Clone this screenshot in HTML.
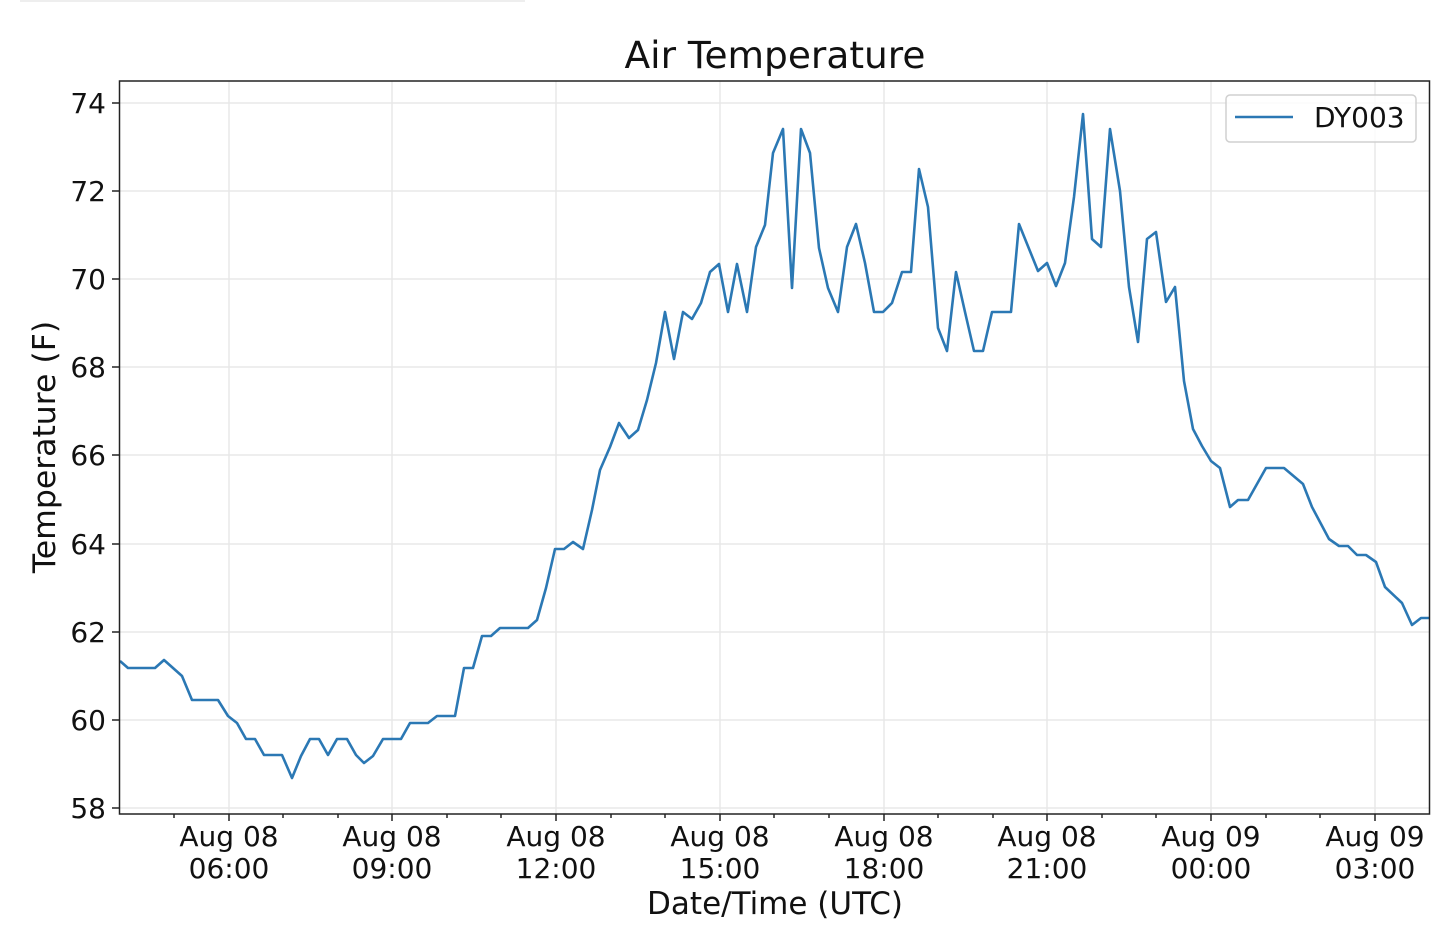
<!DOCTYPE html>
<html><head><meta charset="utf-8"><style>html,body{margin:0;padding:0;background:#fff}svg{display:block}text{font-family:"DejaVu Sans","Liberation Sans",sans-serif;fill:#111}</style></head>
<body>
<svg width="1440" height="934" viewBox="0 0 1440 934" xmlns="http://www.w3.org/2000/svg">
<rect x="20" y="0" width="505" height="2" fill="#eee"/>
<g stroke="#e8e8e8" stroke-width="1.5">
<line x1="229" y1="81" x2="229" y2="814"/><line x1="392" y1="81" x2="392" y2="814"/><line x1="556" y1="81" x2="556" y2="814"/><line x1="720" y1="81" x2="720" y2="814"/><line x1="884" y1="81" x2="884" y2="814"/><line x1="1047" y1="81" x2="1047" y2="814"/><line x1="1211" y1="81" x2="1211" y2="814"/><line x1="1375" y1="81" x2="1375" y2="814"/>
<line x1="119" y1="103" x2="1429" y2="103"/><line x1="119" y1="191" x2="1429" y2="191"/><line x1="119" y1="279" x2="1429" y2="279"/><line x1="119" y1="367" x2="1429" y2="367"/><line x1="119" y1="455" x2="1429" y2="455"/><line x1="119" y1="544" x2="1429" y2="544"/><line x1="119" y1="632" x2="1429" y2="632"/><line x1="119" y1="720" x2="1429" y2="720"/><line x1="119" y1="808" x2="1429" y2="808"/>
</g>
<polyline fill="none" stroke="#2b78b4" stroke-width="2.6" stroke-linejoin="round" points="120,661 128,668 155,668 164,660 173,668 182,676 192,700 218,700 228,716 237,723 246,739 255,739 264,755 282,755 292,778 301,756 310,739 319,739 328,755 337,739 347,739 356,755 364,763 373,756 383,739 401,739 410,723 428,723 437,716 455,716 464,668 473,668 482,636 491,636 500,628 528,628 537,620 546,588 555,549 564,549 573,542 583,549 592,510 600,470 610,447 619,423 629,438 638,430 647,400 656,363 665,312 674,359 683,312 692,319 701,303 710,272 719,264 728,312 737,264 747,312 756,247 765,225 773,153 783,129 792,288 801,129 810,153 819,248 828,288 838,312 847,247 856,224 865,263 874,312 883,312 892,303 902,272 911,272 919,169 928,207 938,328 947,351 956,272 965,312 974,351 983,351 992,312 1011,312 1019,224 1038,271 1047,263 1056,286 1065,263 1074,197 1083,114 1092,239 1101,247 1110,129 1120,191 1129,287 1138,342 1147,239 1156,232 1166,302 1175,287 1184,381 1193,429 1202,446 1211,461 1220,468 1230,507 1238,500 1248,500 1257,484 1266,468 1284,468 1303,484 1312,507 1329,539 1339,546 1348,546 1357,555 1366,555 1376,562 1385,587 1402,603 1412,625 1421,618 1430,618"/>
<rect x="119.5" y="81" width="1310" height="733" fill="none" stroke="#222" stroke-width="1.5"/>
<g stroke="#222" stroke-width="1.5">
<line x1="112" y1="103" x2="119" y2="103"/><line x1="112" y1="191" x2="119" y2="191"/><line x1="112" y1="279" x2="119" y2="279"/><line x1="112" y1="367" x2="119" y2="367"/><line x1="112" y1="455" x2="119" y2="455"/><line x1="112" y1="544" x2="119" y2="544"/><line x1="112" y1="632" x2="119" y2="632"/><line x1="112" y1="720" x2="119" y2="720"/><line x1="112" y1="808" x2="119" y2="808"/>
<line x1="229" y1="814" x2="229" y2="821"/><line x1="392" y1="814" x2="392" y2="821"/><line x1="556" y1="814" x2="556" y2="821"/><line x1="720" y1="814" x2="720" y2="821"/><line x1="884" y1="814" x2="884" y2="821"/><line x1="1047" y1="814" x2="1047" y2="821"/><line x1="1211" y1="814" x2="1211" y2="821"/><line x1="1375" y1="814" x2="1375" y2="821"/>
<line x1="174" y1="814" x2="174" y2="818"/><line x1="283" y1="814" x2="283" y2="818"/><line x1="338" y1="814" x2="338" y2="818"/><line x1="447" y1="814" x2="447" y2="818"/><line x1="501" y1="814" x2="501" y2="818"/><line x1="611" y1="814" x2="611" y2="818"/><line x1="665" y1="814" x2="665" y2="818"/><line x1="774" y1="814" x2="774" y2="818"/><line x1="829" y1="814" x2="829" y2="818"/><line x1="938" y1="814" x2="938" y2="818"/><line x1="993" y1="814" x2="993" y2="818"/><line x1="1102" y1="814" x2="1102" y2="818"/><line x1="1156" y1="814" x2="1156" y2="818"/><line x1="1266" y1="814" x2="1266" y2="818"/><line x1="1320" y1="814" x2="1320" y2="818"/>
</g>
<g font-size="28" text-anchor="end">
<text x="106" y="113">74</text><text x="106" y="201">72</text><text x="106" y="289">70</text><text x="106" y="377">68</text><text x="106" y="465">66</text><text x="106" y="554">64</text><text x="106" y="642">62</text><text x="106" y="730">60</text><text x="106" y="818">58</text>
</g>
<g font-size="28" text-anchor="middle">
<text x="229" y="846">Aug 08</text><text x="229" y="878">06:00</text>
<text x="392" y="846">Aug 08</text><text x="392" y="878">09:00</text>
<text x="556" y="846">Aug 08</text><text x="556" y="878">12:00</text>
<text x="720" y="846">Aug 08</text><text x="720" y="878">15:00</text>
<text x="884" y="846">Aug 08</text><text x="884" y="878">18:00</text>
<text x="1047" y="846">Aug 08</text><text x="1047" y="878">21:00</text>
<text x="1211" y="846">Aug 09</text><text x="1211" y="878">00:00</text>
<text x="1375" y="846">Aug 09</text><text x="1375" y="878">03:00</text>
<text x="775" y="914" font-size="31">Date/Time (UTC)</text>
<text x="775" y="68" font-size="37.5">Air Temperature</text>
<text transform="translate(55,447) rotate(-90)" font-size="31.5">Temperature (F)</text>
</g>
<rect x="1226" y="95" width="190" height="47" rx="4" fill="#fff" fill-opacity="0.8" stroke="#d0d0d0" stroke-width="1.5"/>
<line x1="1235" y1="117" x2="1293" y2="117" stroke="#2b78b4" stroke-width="2.6"/>
<text x="1314" y="127" font-size="28">DY003</text>
</svg>
</body></html>
